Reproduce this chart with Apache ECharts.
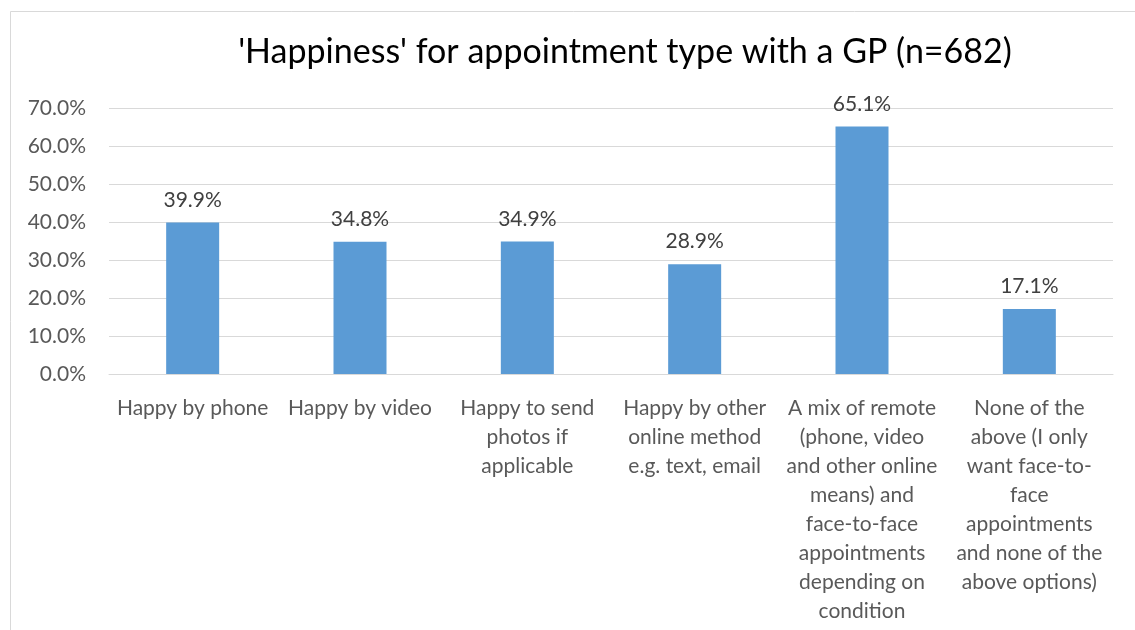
<!DOCTYPE html>
<html>
<head>
<meta charset="utf-8">
<script src="https://cdn.jsdelivr.net/npm/echarts@6/dist/echarts.min.js"></script>
<style>
  html, body { margin: 0; padding: 0; background: #fff; }
  #chart { width: 1135px; height: 630px; }
</style>
</head>
<body>
<div id="chart"></div>
<script>
// Appointment types (axis labels wrapped as shown under each bar)
const categories = [
  'Happy by phone',
  'Happy by video',
  'Happy to send\nphotos if\napplicable',
  'Happy by other\nonline method\ne.g. text, email',
  'A mix of remote\n(phone, video\nand other online\nmeans) and\nface-to-face\nappointments\ndepending on\ncondition',
  'None of the\nabove (I only\nwant face-to-\nface\nappointments\nand none of the\nabove options)'
];
// Share of respondents happy with each type, in percent
const happyShare = [39.9, 34.8, 34.9, 28.9, 65.1, 17.1];
// Value axis ticks, in percent
const yTicks = [0, 10, 20, 30, 40, 50, 60, 70];

const titleText = "'Happiness' for appointment type with a GP (n=682)";
const FONT = 'Lato';

const chart = echarts.init(document.getElementById('chart'), null, { renderer: 'canvas' });

chart.setOption({
  backgroundColor: '#ffffff',
  animation: false,
  textStyle: { fontFamily: FONT },
  title: {
    text: titleText,
    left: 620,
    top: 30,
    textAlign: 'center',
    textStyle: { fontFamily: FONT, fontSize: 34, fontWeight: 'normal', color: '#000000' }
  },
  graphic: [{
    type: 'rect',
    silent: true,
    shape: { x: 10.5, y: 11.5, width: 1300, height: 800 },
    style: { fill: 'none', stroke: '#d9d9d9', lineWidth: 1 }
  }],
  grid: {
    left: 109, right: 22, top: 108, bottom: 256,
    containLabel: false,
    outerBoundsMode: 'none'
  },
  xAxis: {
    type: 'category',
    data: categories,
    axisTick: { show: false },
    axisLine: { show: true, lineStyle: { color: '#d9d9d9', width: 1 } },
    axisLabel: {
      interval: 0,
      margin: 20,
      color: '#595959',
      fontFamily: FONT,
      fontSize: 21,
      lineHeight: 29,
      align: 'center'
    }
  },
  yAxis: {
    type: 'value',
    min: yTicks[0],
    max: yTicks[yTicks.length - 1],
    interval: yTicks[1] - yTicks[0],
    axisLine: { show: false },
    axisTick: { show: false },
    splitLine: { lineStyle: { color: '#d9d9d9', width: 1 } },
    axisLabel: {
      margin: 23,
      color: '#595959',
      fontFamily: FONT,
      fontSize: 21,
      formatter: v => v.toFixed(1) + '%'
    }
  },
  series: [{
    type: 'bar',
    data: happyShare,
    barWidth: 53,
    itemStyle: { color: '#5b9bd5' },
    label: {
      show: true,
      position: 'top',
      distance: 12,
      color: '#404040',
      fontFamily: FONT,
      fontSize: 21,
      formatter: p => p.value.toFixed(1) + '%'
    }
  }]
});
</script>
</body>
</html>
